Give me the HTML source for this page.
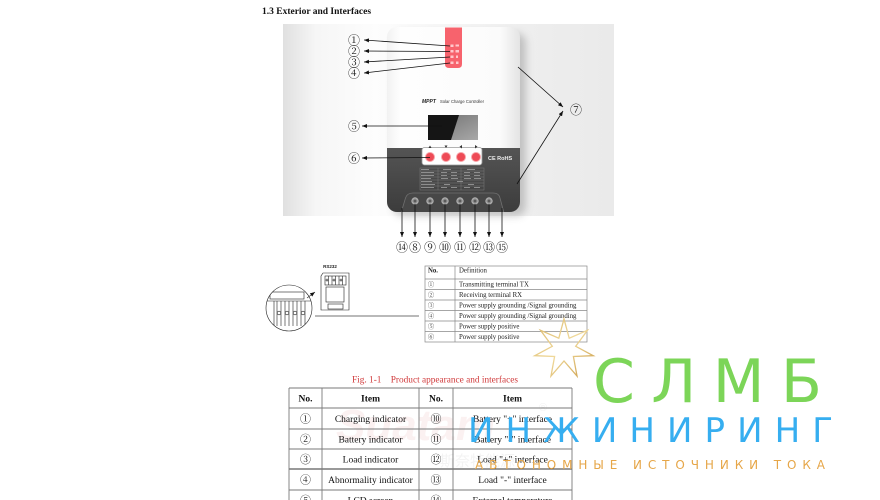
<!DOCTYPE html>
<html><head><meta charset="utf-8">
<style>
html,body{margin:0;padding:0;background:#fff;}
svg{display:block;}
</style></head><body>
<svg width="880" height="500" viewBox="0 0 880 500" xmlns="http://www.w3.org/2000/svg">
<defs>
<linearGradient id="bg" x1="0" y1="0" x2="1" y2="0">
<stop offset="0" stop-color="#e0e0e0"/>
<stop offset="0.1" stop-color="#f6f6f6"/>
<stop offset="0.28" stop-color="#fdfdfd"/>
<stop offset="0.72" stop-color="#eeeeee"/>
<stop offset="1" stop-color="#eaeaea"/>
</linearGradient>
<linearGradient id="dark" x1="0" y1="0" x2="0" y2="1">
<stop offset="0" stop-color="#545454"/>
<stop offset="1" stop-color="#3c3c3c"/>
</linearGradient>
<linearGradient id="face" x1="0" y1="0" x2="1" y2="0">
<stop offset="0" stop-color="#f2f2f2"/>
<stop offset="0.1" stop-color="#fefefe"/>
<stop offset="0.85" stop-color="#fbfbfb"/>
<stop offset="1" stop-color="#e4e4e4"/>
</linearGradient>
<linearGradient id="lcd" x1="0" y1="0" x2="1" y2="1">
<stop offset="0" stop-color="#6e6e6e"/>
<stop offset="1" stop-color="#a8a8a8"/>
</linearGradient>
<linearGradient id="gold" x1="0" y1="0" x2="1" y2="1">
<stop offset="0" stop-color="#d8b567"/>
<stop offset="0.5" stop-color="#f0d99a"/>
<stop offset="1" stop-color="#c99a45"/>
</linearGradient>
<clipPath id="dev"><rect x="387" y="27" width="133" height="185" rx="10"/></clipPath>
<clipPath id="circ"><circle cx="289" cy="308" r="23"/></clipPath>
<filter id="blur" x="-20%" y="-20%" width="140%" height="140%"><feGaussianBlur stdDeviation="4"/></filter>
<marker id="ah" viewBox="0 0 10 8" refX="10" refY="4" markerWidth="5" markerHeight="4" orient="auto" markerUnits="userSpaceOnUse"><path d="M0,0 L10,4 L0,8z" fill="#111"/></marker>
</defs>

<rect width="880" height="500" fill="#fff"/>

<!-- Title -->
<text x="262" y="14" font-family="Liberation Serif, serif" font-weight="bold" font-size="9.5" fill="#111">1.3 Exterior and Interfaces</text>

<!-- Photo background -->
<rect x="283" y="24" width="331" height="192" fill="url(#bg)"/>

<!-- Device shadow -->
<rect x="393" y="33" width="133" height="183" rx="10" fill="#8a8a8a" opacity="0.45" filter="url(#blur)"/>

<!-- Device -->
<g clip-path="url(#dev)">
  <rect x="387" y="27" width="133" height="185" fill="url(#face)"/>
  <rect x="387" y="148" width="133" height="64" fill="url(#dark)"/>
  <path d="M401,213 L405.5,198 Q407,193 413,193 L493,193 Q499,193 500,198 L504,213 Z" fill="#474747" stroke="#707070" stroke-width="0.8"/>
</g>

<!-- Red LED panel -->
<path d="M445,27.5 H462 V64 Q462,68 458,68 H449 Q445,68 445,64 Z" fill="#f7636d"/>
<g fill="#ffc8cc">
  <rect x="450.5" y="44.5" width="3" height="2.5"/>
  <rect x="450.5" y="50" width="3" height="2.5"/>
  <rect x="450.5" y="55.5" width="3" height="2.5"/>
  <rect x="450.5" y="61.5" width="3" height="2.5"/>
  <rect x="455.5" y="44.5" width="3.5" height="2"/>
  <rect x="455.5" y="50" width="3.5" height="2.5"/>
  <rect x="456" y="55.5" width="2" height="2.5"/>
  <rect x="456" y="61.5" width="2.5" height="2.5"/>
</g>

<!-- MPPT label -->
<text x="422" y="103" font-family="Liberation Sans, sans-serif" font-size="5" font-weight="bold" font-style="italic" fill="#222">MPPT</text>
<text x="440" y="103" font-family="Liberation Sans, sans-serif" font-size="4.2" fill="#333">Solar Charge Controller</text>

<!-- LCD -->
<rect x="428" y="115" width="50" height="25" fill="url(#lcd)"/>
<polygon points="428,115 459,115 451,140 428,140" fill="#151515"/>

<!-- Button panel -->
<rect x="422" y="147.5" width="60" height="17.5" rx="2.5" fill="#fff" stroke="#999" stroke-width="0.8"/>
<g fill="#333">
  <path d="M428.5,148 L431.5,148 L430,145.5 Z"/>
  <path d="M444.5,145.5 L447.5,145.5 L446,148 Z"/>
  <path d="M462,145 L462,148.5 L459.5,146.75 Z"/>
  <path d="M475,145 L475,148.5 L477.5,146.75 Z"/>
</g>
<g fill="#ee4b56" stroke="#f7a3a8" stroke-width="1">
  <circle cx="430" cy="157" r="4.5"/>
  <circle cx="446" cy="157" r="4.5"/>
  <circle cx="461" cy="157" r="4.5"/>
  <circle cx="476" cy="157" r="4.5"/>
</g>
<text x="488" y="160" font-family="Liberation Sans, sans-serif" font-size="5.5" font-weight="bold" fill="#eeeeee">CE  RoHS</text>

<!-- Spec table on dark -->
<g stroke="#7a7a7a" stroke-width="0.5" fill="none">
  <rect x="420" y="168" width="64" height="22"/>
  <line x1="420" y1="171" x2="484" y2="171"/>
  <line x1="420" y1="174" x2="484" y2="174"/>
  <line x1="420" y1="177" x2="484" y2="177"/>
  <line x1="420" y1="180" x2="484" y2="180"/>
  <line x1="420" y1="183" x2="484" y2="183"/>
  <line x1="420" y1="186" x2="484" y2="186"/>
  <line x1="438" y1="168" x2="438" y2="190"/>
  <line x1="461" y1="168" x2="461" y2="190"/>
</g>
<g fill="#8e8e8e">
  <rect x="421" y="169" width="8" height="1"/><rect x="421" y="172" width="13" height="1"/><rect x="421" y="175" width="13" height="1"/>
  <rect x="421" y="178" width="10" height="1"/><rect x="421" y="181" width="11" height="1"/><rect x="421" y="184" width="14" height="1"/><rect x="421" y="187" width="13" height="1"/>
  <rect x="443" y="169" width="8" height="1"/><rect x="467" y="169" width="8" height="1"/>
  <rect x="441" y="172" width="6" height="1"/><rect x="451" y="172" width="6" height="1"/><rect x="464" y="172" width="6" height="1"/><rect x="474" y="172" width="6" height="1"/>
  <rect x="441" y="175" width="6" height="1"/><rect x="451" y="175" width="6" height="1"/><rect x="464" y="175" width="6" height="1"/><rect x="474" y="175" width="6" height="1"/>
  <rect x="441" y="178" width="7" height="1"/><rect x="451" y="178" width="7" height="1"/><rect x="464" y="178" width="7" height="1"/><rect x="474" y="178" width="7" height="1"/>
  <rect x="457" y="181" width="6" height="1"/>
  <rect x="444" y="184" width="6" height="1"/><rect x="468" y="184" width="6" height="1"/>
  <rect x="441" y="187" width="6" height="1"/><rect x="451" y="187" width="6" height="1"/><rect x="464" y="187" width="6" height="1"/><rect x="474" y="187" width="6" height="1"/>
</g>

<!-- Ports -->
<g>
  <g fill="#999" stroke="#c4c4c4" stroke-width="0.6">
    <circle cx="415" cy="201" r="3.3"/><circle cx="430" cy="201" r="3.3"/><circle cx="445" cy="201" r="3.3"/>
    <circle cx="460" cy="201" r="3.3"/><circle cx="475" cy="201" r="3.3"/><circle cx="489" cy="201" r="3.3"/>
  </g>
  <g fill="#5a5a5a">
    <circle cx="415" cy="201" r="1.5"/><circle cx="430" cy="201" r="1.5"/><circle cx="445" cy="201" r="1.5"/>
    <circle cx="460" cy="201" r="1.5"/><circle cx="475" cy="201" r="1.5"/><circle cx="489" cy="201" r="1.5"/>
  </g>
</g>

<!-- Arrows (callouts) -->
<g stroke="#111" stroke-width="0.8" fill="none" marker-end="url(#ah)">
  <line x1="450" y1="46" x2="364" y2="40"/>
  <line x1="450" y1="51.5" x2="364" y2="51"/>
  <line x1="450" y1="57" x2="364" y2="62"/>
  <line x1="450" y1="63" x2="364" y2="73"/>
  <line x1="442" y1="126" x2="362" y2="126"/>
  <line x1="430" y1="157.5" x2="362" y2="158"/>
  <line x1="518" y1="67" x2="563" y2="107"/>
  <line x1="517" y1="184" x2="563" y2="111"/>
  <line x1="402" y1="208" x2="402" y2="237"/>
  <line x1="415" y1="204" x2="415" y2="237"/>
  <line x1="430" y1="204" x2="430" y2="237"/>
  <line x1="445" y1="204" x2="445" y2="237"/>
  <line x1="460" y1="204" x2="460" y2="237"/>
  <line x1="475" y1="204" x2="475" y2="237"/>
  <line x1="489" y1="204" x2="489" y2="237"/>
  <line x1="502" y1="208" x2="502" y2="237"/>
</g>

<!-- Callout labels -->
<g font-family="Noto Serif CJK SC, DejaVu Sans, serif" font-size="12" fill="#111" text-anchor="middle">
  <text x="354" y="44.5">①</text>
  <text x="354" y="55.5">②</text>
  <text x="354" y="66.5">③</text>
  <text x="354" y="77.5">④</text>
  <text x="354" y="130.5">⑤</text>
  <text x="354" y="162.5">⑥</text>
  <text x="576" y="114">⑦</text>
  <text x="402" y="251.5">⑭</text>
  <text x="415" y="251.5">⑧</text>
  <text x="430" y="251.5">⑨</text>
  <text x="445" y="251.5">⑩</text>
  <text x="460" y="251.5">⑪</text>
  <text x="475" y="251.5">⑫</text>
  <text x="489" y="251.5">⑬</text>
  <text x="502" y="251.5">⑮</text>
</g>

<!-- RS232 drawing -->
<text x="330" y="268" font-family="Liberation Sans, sans-serif" font-size="4.5" font-weight="bold" fill="#222" text-anchor="middle">RS232</text>
<g stroke="#222" stroke-width="0.6" fill="none">
  <path d="M323,273 L349,273 L349,310 L321,310 L321,276 Z"/>
  <rect x="325" y="276" width="21" height="9"/>
  <line x1="328.5" y1="276" x2="328.5" y2="285"/><line x1="332" y1="276" x2="332" y2="285"/>
  <line x1="335.5" y1="276" x2="335.5" y2="285"/><line x1="339" y1="276" x2="339" y2="285"/>
  <line x1="342.5" y1="276" x2="342.5" y2="285"/>
  <circle cx="327" cy="280" r="1"/><circle cx="334" cy="280" r="1"/><circle cx="341" cy="280" r="1"/>
  <rect x="326" y="287" width="18" height="15"/>
  <rect x="328" y="304" width="15" height="5"/>
  <circle cx="289" cy="308" r="23"/>
  <g clip-path="url(#circ)">
    <rect x="270" y="292" width="34" height="7"/>
    <line x1="266" y1="301" x2="312" y2="301"/>
    <line x1="274" y1="301" x2="274" y2="326"/><line x1="277" y1="301" x2="277" y2="326"/>
    <line x1="281" y1="301" x2="281" y2="326"/><line x1="285" y1="301" x2="285" y2="326"/>
    <line x1="289" y1="301" x2="289" y2="326"/><line x1="293" y1="301" x2="293" y2="326"/>
    <line x1="297" y1="301" x2="297" y2="326"/><line x1="301" y1="301" x2="301" y2="326"/>
    <line x1="305" y1="301" x2="305" y2="326"/>
    <circle cx="279" cy="313" r="1.8"/><circle cx="287" cy="313" r="1.8"/>
    <circle cx="295" cy="313" r="1.8"/><circle cx="303" cy="313" r="1.8"/>
  </g>
  <line x1="315" y1="316" x2="419" y2="316" stroke="#444" stroke-width="0.8"/>
</g>
<line x1="307" y1="298" x2="315" y2="292" stroke="#222" stroke-width="0.6" marker-end="url(#ah)"/>

<!-- Definition table -->
<g stroke="#888" stroke-width="0.7" fill="none">
  <rect x="425" y="266" width="162" height="76"/>
  <line x1="455" y1="266" x2="455" y2="342"/>
  <line x1="425" y1="279" x2="587" y2="279"/>
  <line x1="425" y1="289.5" x2="587" y2="289.5"/>
  <line x1="425" y1="300" x2="587" y2="300"/>
  <line x1="425" y1="310.5" x2="587" y2="310.5"/>
  <line x1="425" y1="321" x2="587" y2="321"/>
  <line x1="425" y1="331.5" x2="587" y2="331.5"/>
</g>
<g font-family="Liberation Serif, serif" font-size="6.8" fill="#222">
  <text x="428" y="272.5" font-weight="bold">No.</text>
  <text x="459" y="272.5">Definition</text>
  <text x="459" y="286.5">Transmitting terminal TX</text>
  <text x="459" y="297">Receiving terminal RX</text>
  <text x="459" y="307.5">Power supply grounding /Signal grounding</text>
  <text x="459" y="318">Power supply grounding /Signal grounding</text>
  <text x="459" y="328.5">Power supply positive</text>
  <text x="459" y="339">Power supply positive</text>
</g>
<g font-family="Noto Serif CJK SC, DejaVu Sans, serif" font-size="6.5" fill="#333" text-anchor="middle">
  <text x="431" y="286.5">①</text>
  <text x="431" y="297">②</text>
  <text x="431" y="307.5">③</text>
  <text x="431" y="318">④</text>
  <text x="431" y="328.5">⑤</text>
  <text x="431" y="339">⑥</text>
</g>

<!-- Caption -->
<text x="352" y="382.5" font-family="Liberation Serif, serif" font-size="9.3" fill="#d0393a" xml:space="preserve">Fig. 1-1    Product appearance and interfaces</text>

<!-- Faint watermarks -->
<text x="336" y="440" font-family="Liberation Sans, sans-serif" font-size="44" font-weight="bold" font-style="italic" fill="#fbf1f1">Suatam</text>
<text x="543" y="411" font-family="Liberation Sans, sans-serif" font-size="11" fill="#f2f2f2" text-anchor="middle">®</text>
<text x="440" y="466" font-family="Noto Sans CJK SC, sans-serif" font-size="15" fill="#f3f3f3">斯奈特能源</text>

<!-- Bottom table -->
<g stroke="#7a7a7a" stroke-width="0.9" fill="none">
  <line x1="289" y1="388" x2="572" y2="388"/>
  <line x1="289" y1="408" x2="572" y2="408"/>
  <line x1="289" y1="429" x2="572" y2="429"/>
  <line x1="289" y1="449" x2="572" y2="449"/>
  <line x1="289" y1="469" x2="572" y2="469" stroke="#333"/>
  <line x1="289" y1="490" x2="572" y2="490"/>
  <line x1="289" y1="388" x2="289" y2="500"/>
  <line x1="322" y1="388" x2="322" y2="500"/>
  <line x1="419" y1="388" x2="419" y2="500"/>
  <line x1="453" y1="388" x2="453" y2="500"/>
  <line x1="572" y1="388" x2="572" y2="500"/>
</g>
<g font-family="Liberation Serif, serif" font-size="9.5" fill="#111" text-anchor="middle">
  <text x="305.5" y="401.5" font-weight="bold">No.</text>
  <text x="370.5" y="401.5" font-weight="bold">Item</text>
  <text x="436" y="401.5" font-weight="bold">No.</text>
  <text x="512.5" y="401.5" font-weight="bold">Item</text>
  <text x="370.5" y="422">Charging indicator</text>
  <text x="370.5" y="442.5">Battery indicator</text>
  <text x="370.5" y="462.5">Load indicator</text>
  <text x="370.5" y="483">Abnormality indicator</text>
  <text x="370.5" y="503.5">LCD screen</text>
  <text x="512.5" y="422">Battery "+" interface</text>
  <text x="512.5" y="442.5">Battery "-" interface</text>
  <text x="512.5" y="462.5">Load "+" interface</text>
  <text x="512.5" y="483">Load "-" interface</text>
  <text x="512.5" y="503.5">External temperature</text>
</g>
<g font-family="Noto Serif CJK SC, DejaVu Sans, serif" font-size="11" fill="#111" text-anchor="middle">
  <text x="305.5" y="422.5">①</text>
  <text x="305.5" y="443">②</text>
  <text x="305.5" y="463">③</text>
  <text x="305.5" y="483.5">④</text>
  <text x="305.5" y="504">⑤</text>
  <text x="436" y="422.5">⑩</text>
  <text x="436" y="443">⑪</text>
  <text x="436" y="463">⑫</text>
  <text x="436" y="483.5">⑬</text>
  <text x="436" y="504">⑭</text>
</g>

<!-- Logo watermark -->
<polygon points="564,319 569.2,338.2 587.5,330.3 575.7,346.3 593.2,355.7 573.4,356.5 577,376 564,361 551,376 554.6,356.5 534.8,355.7 552.3,346.3 540.5,330.3 558.8,338.2" fill="none" stroke="url(#gold)" stroke-width="1.3" stroke-linejoin="miter"/>
<text x="593" y="402" font-family="DejaVu Sans, Liberation Sans, sans-serif" font-size="60" fill="#7cd558" textLength="229" lengthAdjust="spacing">СЛМБ</text>
<text x="468" y="442" font-family="DejaVu Sans, Liberation Sans, sans-serif" font-size="34" fill="#36aef0" textLength="365" lengthAdjust="spacing">ИНЖИНИРИНГ</text>
<text x="475" y="469" font-family="DejaVu Sans, Liberation Sans, sans-serif" font-size="12" fill="#e6a648" textLength="350" lengthAdjust="spacing">АВТОНОМНЫЕ ИСТОЧНИКИ ТОКА</text>

</svg>
</body></html>
